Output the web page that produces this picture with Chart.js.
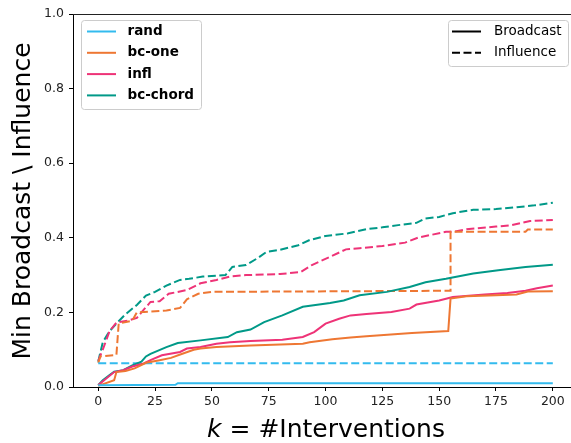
<!DOCTYPE html>
<html>
<head>
<meta charset="utf-8">
<script src="https://cdn.jsdelivr.net/npm/chart.js@4/dist/chart.umd.min.js"></script>
<style>
  html, body { margin: 0; padding: 0; background: #fff; }
  #chart { display: block; }
</style>
</head>
<body>
<canvas id="chart" width="571" height="443"></canvas>
<script>
// ---- data ----
var xTicks = [0, 25, 50, 75, 100, 125, 150, 175, 200];
var yTicks = [0.0, 0.2, 0.4, 0.6, 0.8, 1.0];

var methods = ['rand', 'bc-one', 'infl', 'bc-chord'];
var colors  = ['#33bbee', '#ee7733', '#ee3377', '#009988'];
var kinds   = ['Broadcast', 'Influence'];

// rand
var kRandBroad = [0, 34, 35, 200];
var vRandBroad = [0.005, 0.006, 0.01, 0.01];
var kRandInfl  = [0, 200];
var vRandInfl  = [0.064, 0.064];

// bc-one
var kBcOneBroad = [0, 7, 8, 12, 16, 21, 27, 32, 37, 42, 45, 52, 67, 90, 93, 103, 111, 118, 138, 154, 155, 162, 175, 184, 189, 200];
var vBcOneBroad = [0.003, 0.018, 0.04, 0.043, 0.05, 0.065, 0.072, 0.078, 0.089, 0.1, 0.103, 0.107, 0.111, 0.116, 0.12, 0.128, 0.133, 0.136, 0.145, 0.15, 0.237, 0.243, 0.246, 0.248, 0.256, 0.257];
var kBcOneInfl  = [0, 1, 8, 9, 15, 17, 30, 36, 39, 44, 50, 155, 155, 188, 189, 200];
var vBcOneInfl  = [0.065, 0.082, 0.086, 0.17, 0.178, 0.2, 0.205, 0.212, 0.235, 0.25, 0.255, 0.258, 0.416, 0.416, 0.422, 0.422];

// infl
var kInflBroad = [0, 3, 7, 11, 15, 20, 23, 28, 36, 39, 45, 52, 58, 67, 81, 90, 95, 100, 106, 111, 118, 129, 137, 140, 150, 156, 170, 180, 188, 193, 200];
var vInflBroad = [0.005, 0.02, 0.04, 0.045, 0.055, 0.063, 0.072, 0.085, 0.094, 0.103, 0.107, 0.116, 0.12, 0.123, 0.127, 0.134, 0.147, 0.17, 0.183, 0.192, 0.196, 0.201, 0.21, 0.221, 0.232, 0.241, 0.248, 0.252, 0.258, 0.265, 0.272];
var kInflInfl  = [0, 2, 5, 8, 13, 17, 19, 23, 27, 31, 39, 45, 52, 58, 65, 80, 89, 94, 102, 109, 115, 125, 135, 141, 153, 156, 162, 175, 182, 190, 200];
var vInflInfl  = [0.07, 0.10, 0.15, 0.173, 0.178, 0.185, 0.20, 0.228, 0.23, 0.25, 0.26, 0.278, 0.287, 0.296, 0.30, 0.303, 0.308, 0.327, 0.349, 0.369, 0.372, 0.378, 0.387, 0.401, 0.416, 0.416, 0.423, 0.43, 0.434, 0.445, 0.448];

// bc-chord
var kChordBroad = [0, 2, 5, 7, 11, 15, 19, 21, 23, 30, 35, 45, 57, 61, 67, 73, 81, 90, 102, 108, 115, 127, 137, 144, 153, 165, 176, 188, 200];
var vChordBroad = [0.005, 0.018, 0.032, 0.041, 0.045, 0.058, 0.068, 0.082, 0.089, 0.107, 0.118, 0.125, 0.134, 0.147, 0.154, 0.174, 0.192, 0.215, 0.225, 0.232, 0.246, 0.255, 0.268, 0.281, 0.29, 0.304, 0.313, 0.322, 0.328];
var kChordInfl  = [0, 2, 5, 8, 12, 17, 21, 25, 30, 36, 40, 46, 56, 59, 65, 70, 74, 80, 88, 93, 100, 110, 118, 125, 132, 140, 144, 150, 156, 165, 175, 184, 192, 200];
var vChordInfl  = [0.068, 0.12, 0.15, 0.17, 0.195, 0.22, 0.245, 0.255, 0.272, 0.287, 0.29, 0.296, 0.30, 0.322, 0.327, 0.345, 0.362, 0.368, 0.38, 0.394, 0.405, 0.412, 0.423, 0.428, 0.434, 0.44, 0.452, 0.456, 0.466, 0.475, 0.477, 0.482, 0.487, 0.494];

var broadK = [kRandBroad, kBcOneBroad, kInflBroad, kChordBroad];
var broadV = [vRandBroad, vBcOneBroad, vInflBroad, vChordBroad];
var inflK  = [kRandInfl, kBcOneInfl, kInflInfl, kChordInfl];
var inflV  = [vRandInfl, vBcOneInfl, vInflInfl, vChordInfl];

var FONT = "'DejaVu Sans', sans-serif";
var DASH = [8, 3.5];

function pts(ks, vs) {
    var out = [];
    for (var i = 0; i < ks.length; i++) out.push({x: ks[i], y: vs[i]});
    return out;
}

var datasets = [];
for (var i = 0; i < methods.length; i++) {
    datasets.push({
        label: methods[i] + ' ' + kinds[0],
        data: pts(broadK[i], broadV[i]),
        borderColor: colors[i],
        borderWidth: 2,
        pointRadius: 0,
        fill: false
    });
}
for (var i = 0; i < methods.length; i++) {
    datasets.push({
        label: methods[i] + ' ' + kinds[1],
        data: pts(inflK[i], inflV[i]),
        borderColor: colors[i],
        borderWidth: 2,
        borderDash: DASH,
        pointRadius: 0,
        fill: false
    });
}

// legends, titles and top spine, drawn like matplotlib does
function legendBox(ctx, x, y, w, h) {
    ctx.save();
    ctx.fillStyle = 'rgba(255,255,255,0.8)';
    ctx.strokeStyle = '#cccccc';
    ctx.lineWidth = 1;
    ctx.beginPath();
    ctx.roundRect(x + 0.5, y + 0.5, w, h, 3);
    ctx.fill();
    ctx.stroke();
    ctx.restore();
}

var extras = {
    id: 'extras',
    afterDraw: function(chart) {
        var ctx = chart.ctx, a = chart.chartArea;
        ctx.save();
        // top spine
        ctx.strokeStyle = '#222';
        ctx.lineWidth = 1;
        ctx.beginPath();
        ctx.moveTo(a.left, a.top + 0.5);
        ctx.lineTo(a.right, a.top + 0.5);
        ctx.stroke();

        // method legend
        legendBox(ctx, 81, 20, 120, 89);
        ctx.font = 'bold 13.5px ' + FONT;
        ctx.textBaseline = 'middle';
        ctx.textAlign = 'left';
        for (var i = 0; i < methods.length; i++) {
            var yy = 31.5 + i * 21.3;
            ctx.strokeStyle = colors[i];
            ctx.lineWidth = 2;
            ctx.beginPath();
            ctx.moveTo(87, yy);
            ctx.lineTo(116, yy);
            ctx.stroke();
            ctx.fillStyle = '#000';
            ctx.fillText(methods[i], 127.5, yy);
        }

        // line style legend
        legendBox(ctx, 448, 20, 120, 46);
        ctx.font = '13.5px ' + FONT;
        for (var j = 0; j < kinds.length; j++) {
            var y2 = 31.5 + j * 21.3;
            ctx.strokeStyle = '#000';
            ctx.lineWidth = 2;
            ctx.setLineDash(j == 0 ? [] : DASH);
            ctx.beginPath();
            ctx.moveTo(452, y2);
            ctx.lineTo(481, y2);
            ctx.stroke();
            ctx.setLineDash([]);
            ctx.fillStyle = '#000';
            ctx.fillText(kinds[j], 494, y2);
        }

        // y title
        ctx.save();
        ctx.translate(23, 201);
        ctx.rotate(-Math.PI / 2);
        ctx.font = '25px ' + FONT;
        ctx.textAlign = 'center';
        ctx.textBaseline = 'middle';
        ctx.fillStyle = '#000';
        ctx.fillText('Min Broadcast \\ Influence', 0, 0);
        ctx.restore();

        // x title with italic k
        var part1 = 'k', part2 = ' = #Interventions';
        ctx.font = 'italic 25px ' + FONT;
        var w1 = ctx.measureText(part1).width;
        ctx.font = '25px ' + FONT;
        var w2 = ctx.measureText(part2).width;
        var x0 = 326 - (w1 + w2) / 2;
        ctx.textAlign = 'left';
        ctx.textBaseline = 'alphabetic';
        ctx.fillStyle = '#000';
        ctx.font = 'italic 25px ' + FONT;
        ctx.fillText(part1, x0, 437);
        ctx.font = '25px ' + FONT;
        ctx.fillText(part2, x0 + w1, 437);
        ctx.restore();
    }
};

var ctx = document.getElementById('chart');
var chart = new Chart(ctx, {
    type: 'line',
    data: { datasets: datasets },
    options: {
        responsive: false,
        animation: false,
        devicePixelRatio: 1,
        layout: { padding: { top: 14, right: 0, left: 0, bottom: 0 } },
        plugins: { legend: { display: false }, tooltip: { enabled: false } },
        elements: { line: { tension: 0 } },
        scales: {
            x: {
                type: 'linear',
                min: -11.1,
                max: 208,
                afterBuildTicks: function(s) { s.ticks = xTicks.map(function(v) { return {value: v}; }); },
                afterFit: function(s) { s.height = 56; },
                grid: { drawOnChartArea: false, drawTicks: true, tickLength: 4, tickColor: '#000' },
                border: { display: true, color: '#000', width: 1 },
                ticks: { color: '#222', padding: 3, font: { family: FONT, size: 12.5 }, maxRotation: 0 }
            },
            y: {
                type: 'linear',
                min: 0,
                max: 1,
                afterBuildTicks: function(s) { s.ticks = yTicks.map(function(v) { return {value: v}; }); },
                afterFit: function(s) { s.width = 73; },
                grid: { drawOnChartArea: false, drawTicks: true, tickLength: 4, tickColor: '#000' },
                border: { display: true, color: '#000', width: 1 },
                ticks: {
                    color: '#222', padding: 5, font: { family: FONT, size: 12.5 },
                    callback: function(v) { return Number(v).toFixed(1); }
                }
            }
        }
    },
    plugins: [extras]
});
</script>
</body>
</html>
